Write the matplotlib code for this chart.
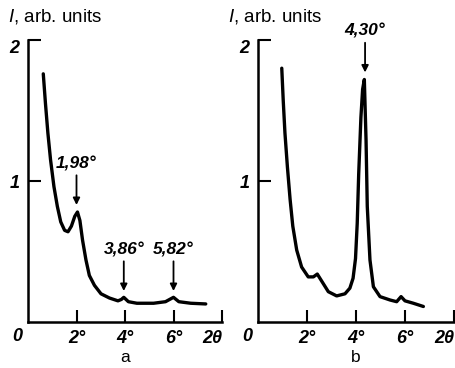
import matplotlib.pyplot as plt

plt.rcParams["mathtext.fontset"] = "custom"
plt.rcParams["mathtext.it"] = "Liberation Sans:italic"

# kurve a: 2theta (grad) und intensitaet (willk. einheiten)
theta_a = [0.63, 0.72, 0.82, 0.93, 1.07, 1.21, 1.35, 1.51, 1.65, 1.79, 1.93, 2.04,
           2.14, 2.25, 2.39, 2.53, 2.74, 3.01, 3.36, 3.71, 3.85, 3.95, 4.14, 4.49,
           5.18, 5.67, 6.0, 6.22, 6.71, 7.33]
int_a = [1.76, 1.55, 1.34, 1.15, 0.96, 0.82, 0.71, 0.65, 0.64, 0.68, 0.75, 0.78,
         0.72, 0.58, 0.44, 0.33, 0.26, 0.20, 0.17, 0.15, 0.16, 0.175, 0.144, 0.133,
         0.133, 0.144, 0.175, 0.144, 0.133, 0.128]

# kurve b
theta_b = [0.97, 1.03, 1.10, 1.20, 1.31, 1.42, 1.58, 1.78, 2.05, 2.26, 2.42, 2.60,
           2.87, 3.21, 3.55, 3.75, 3.88, 3.98, 4.05, 4.11, 4.20, 4.27, 4.34, 4.41,
           4.46, 4.57, 4.71, 4.98, 5.39, 5.66, 5.84, 6.0, 6.34, 6.75]
int_b = [1.80, 1.57, 1.34, 1.10, 0.87, 0.68, 0.51, 0.39, 0.32, 0.32, 0.34, 0.29,
         0.215, 0.185, 0.20, 0.24, 0.31, 0.45, 0.70, 1.05, 1.45, 1.65, 1.72, 1.29,
         0.82, 0.44, 0.25, 0.18, 0.156, 0.144, 0.18, 0.15, 0.133, 0.11]

xticks = [2, 4, 6, 8]
xticklabels = ["2°", "4°", "6°", "2θ"]
yticks = [1, 2]
yticklabels = ["1", "2"]

# peaks: (beschriftung, x der pfeilspitze, y der pfeilspitze)
peaks_a = [("1,98°", 2.0, 0.83), ("3,86°", 3.95, 0.22), ("5,82°", 6.0, 0.22)]
peaks_b = [("4,30°", 4.37, 1.77)]

num_font = dict(family=["Liberation Sans Narrow", "Liberation Sans", "DejaVu Sans"],
                weight="bold", style="italic")

fig = plt.figure(figsize=(4.55, 3.68), dpi=100)
ax_a = fig.add_axes([28 / 455, 46 / 368, 194 / 455, 282 / 368])
ax_b = fig.add_axes([258 / 455, 46 / 368, 196 / 455, 282 / 368])


def panel(ax, th, inten, peaks, letter, lbl_x):
    ax.plot(th, inten, color="black", lw=2.4, solid_capstyle="round",
            solid_joinstyle="round")
    ax.set_xlim(0, 8)
    ax.set_ylim(0, 2)
    ax.spines["top"].set_visible(False)
    ax.spines["right"].set_visible(False)
    ax.spines["left"].set_linewidth(1.8)
    ax.spines["bottom"].set_linewidth(1.8)
    ax.set_xticks(xticks)
    ax.set_xticklabels(xticklabels, fontsize=13, **num_font)
    ax.get_xticklabels()[-1].set_horizontalalignment("right")
    ax.set_yticks(yticks)
    ax.set_yticklabels(yticklabels, fontsize=13, **num_font)
    ax.get_yticklabels()[-1].set_verticalalignment("top")
    ax.tick_params(axis="x", direction="in", length=9, width=1.5, pad=5.5)
    ax.tick_params(axis="y", direction="in", length=9, width=1.5, pad=6)
    for t in ax.xaxis.get_major_ticks() + ax.yaxis.get_major_ticks():
        t.tick1line.set_clip_on(False)
    ax.text(-0.45, -0.1, "0", fontsize=13, ha="center", va="center",
            transform=ax.transData, **num_font)
    for lab, px, py in peaks:
        ax.annotate(lab, xy=(px, py), xytext=(px, py + 0.24), ha="center", va="bottom",
                    fontsize=12.5, annotation_clip=False,
                    arrowprops=dict(arrowstyle="-|>", color="black", lw=1.3,
                                    mutation_scale=10, shrinkA=1, shrinkB=0),
                    **num_font)
    fig.text(lbl_x, 1 - 16 / 368, "$I$, arb. units", fontsize=13.5, va="center",
             family=["Liberation Sans", "DejaVu Sans"])
    ax.text(0.5, -0.125, letter, fontsize=12.5, ha="center", va="center",
            transform=ax.transAxes, family=["Liberation Sans", "DejaVu Sans"])


panel(ax_a, theta_a, int_a, peaks_a, "a", 8 / 455)
panel(ax_b, theta_b, int_b, peaks_b, "b", 228 / 455)

fig.savefig("out.png", dpi=100)
